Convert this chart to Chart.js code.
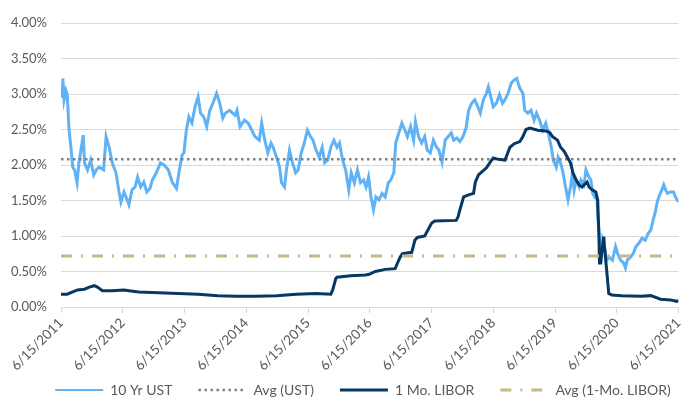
<!DOCTYPE html>
<html>
<head>
<meta charset="utf-8">
<script src="https://cdn.jsdelivr.net/npm/chart.js@4.4.1/dist/chart.umd.min.js"></script>
<style>
  html, body { margin: 0; padding: 0; background: #fff; }
</style>
</head>
<body>
<canvas id="myChart" width="692" height="410"></canvas>
<script>
// tick labels on the date axis (one per year, x = years since 6/15/2011)
const dateLabels = [
  "6/15/2011", "6/15/2012", "6/15/2013", "6/15/2014", "6/15/2015", "6/15/2016",
  "6/15/2017", "6/15/2018", "6/15/2019", "6/15/2020", "6/15/2021",
];

// 10 Yr UST
const ustYears = [
  0, 0.02, 0.03, 0.05, 0.08, 0.10, 0.13, 0.16, 0.19, 0.22, 0.26, 0.29, 0.33, 0.36, 0.38, 0.43,
  0.48, 0.53, 0.57, 0.62, 0.69, 0.73, 0.78, 0.83, 0.89, 0.94, 0.97, 1.02, 1.07, 1.10, 1.15, 1.20,
  1.24, 1.29, 1.34, 1.39, 1.44, 1.48, 1.55, 1.61, 1.67, 1.74, 1.80, 1.87, 1.91, 1.96, 1.99, 2.03,
  2.07, 2.12, 2.17, 2.22, 2.26, 2.31, 2.36, 2.41, 2.46, 2.52, 2.57, 2.62, 2.66, 2.73, 2.78, 2.82,
  2.85, 2.90, 2.97, 3.03, 3.09, 3.14, 3.21, 3.25, 3.30, 3.35, 3.40, 3.44, 3.49, 3.54, 3.57, 3.62,
  3.65, 3.70, 3.75, 3.80, 3.84, 3.89, 3.94, 3.99, 4.04, 4.08, 4.13, 4.18, 4.23, 4.27, 4.32, 4.37,
  4.42, 4.47, 4.51, 4.56, 4.61, 4.66, 4.70, 4.75, 4.80, 4.85, 4.90, 4.94, 4.98, 5.02, 5.06, 5.10,
  5.15, 5.20, 5.25, 5.30, 5.34, 5.39, 5.42, 5.47, 5.52, 5.57, 5.61, 5.66, 5.71, 5.74, 5.79, 5.84,
  5.89, 5.93, 5.98, 6.03, 6.08, 6.12, 6.17, 6.22, 6.27, 6.32, 6.36, 6.41, 6.46, 6.51, 6.56, 6.60,
  6.65, 6.70, 6.75, 6.79, 6.84, 6.89, 6.92, 6.97, 7.00, 7.05, 7.10, 7.15, 7.19, 7.24, 7.29, 7.34,
  7.38, 7.43, 7.48, 7.51, 7.56, 7.61, 7.66, 7.70, 7.75, 7.80, 7.85, 7.89, 7.94, 7.97, 8.02, 8.05,
  8.09, 8.13, 8.17, 8.21, 8.25, 8.28, 8.31, 8.34, 8.39, 8.42, 8.47, 8.50, 8.55, 8.58, 8.61, 8.64,
  8.68, 8.69, 8.72, 8.74, 8.77, 8.80, 8.84, 8.88, 8.93, 8.98, 9.01, 9.06, 9.11, 9.14, 9.17, 9.22,
  9.27, 9.31, 9.36, 9.41, 9.46, 9.51, 9.55, 9.59, 9.62, 9.65, 9.68, 9.73, 9.76, 9.79, 9.82, 9.87,
  9.92, 9.95, 10.00,
];
const ustRates = [
  2.95, 3.10, 3.22, 2.92, 3.05, 3.00, 2.50, 2.25, 1.97, 1.93, 1.75, 2.03, 2.25, 2.42, 2.03, 1.93,
  2.07, 1.86, 1.93, 1.97, 1.93, 2.40, 2.25, 2.03, 1.89, 1.62, 1.48, 1.62, 1.51, 1.44, 1.65, 1.69,
  1.83, 1.69, 1.76, 1.62, 1.67, 1.79, 1.90, 2.03, 2.00, 1.93, 1.76, 1.67, 1.89, 2.14, 2.17, 2.49,
  2.68, 2.59, 2.82, 2.96, 2.73, 2.68, 2.54, 2.77, 2.87, 3.01, 2.87, 2.66, 2.73, 2.77, 2.73, 2.70,
  2.77, 2.54, 2.63, 2.59, 2.49, 2.40, 2.35, 2.59, 2.35, 2.17, 2.31, 2.24, 2.11, 1.97, 1.75, 1.69,
  1.93, 2.21, 2.03, 1.89, 1.93, 2.17, 2.31, 2.49, 2.40, 2.35, 2.21, 2.11, 2.25, 2.03, 2.07, 2.25,
  2.35, 2.25, 2.31, 2.07, 1.93, 1.65, 1.89, 1.75, 1.93, 1.75, 1.79, 1.69, 1.83, 1.55, 1.37, 1.55,
  1.51, 1.60, 1.55, 1.75, 1.79, 1.89, 2.31, 2.45, 2.59, 2.49, 2.40, 2.54, 2.35, 2.61, 2.40, 2.31,
  2.40, 2.21, 2.17, 2.35, 2.25, 2.21, 2.04, 2.35, 2.40, 2.45, 2.35, 2.38, 2.33, 2.40, 2.52, 2.77,
  2.87, 2.92, 2.82, 2.73, 2.92, 3.01, 3.10, 2.92, 2.82, 2.87, 2.99, 2.87, 2.92, 3.01, 3.15, 3.20,
  3.22, 3.08, 3.01, 2.77, 2.73, 2.77, 2.63, 2.73, 2.63, 2.49, 2.59, 2.45, 2.25, 2.07, 1.97, 2.11,
  2.03, 1.89, 1.69, 1.51, 1.69, 1.89, 1.65, 1.79, 1.69, 1.79, 1.72, 1.93, 1.83, 1.79, 1.60, 1.55,
  1.51, 1.32, 0.94, 0.62, 0.94, 0.85, 0.66, 0.70, 0.66, 0.85, 0.76, 0.66, 0.62, 0.55, 0.66, 0.70,
  0.76, 0.85, 0.90, 0.97, 0.94, 1.04, 1.08, 1.23, 1.32, 1.46, 1.55, 1.65, 1.72, 1.65, 1.60, 1.62,
  1.62, 1.55, 1.48,
];

// 1 Mo. LIBOR
const liborYears = [
  0, 0.10, 0.18, 0.27, 0.38, 0.46, 0.54, 0.59, 0.67, 0.83, 1.02, 1.10, 1.26, 1.58, 1.90, 2.22,
  2.54, 2.85, 3.17, 3.49, 3.81, 4.13, 4.37, 4.40, 4.45, 4.47, 4.69, 4.93, 4.99, 5.09, 5.25, 5.41,
  5.45, 5.49, 5.53, 5.68, 5.73, 5.77, 5.89, 6.00, 6.05, 6.40, 6.43, 6.46, 6.52, 6.60, 6.68, 6.71,
  6.76, 6.81, 6.89, 6.95, 7.00, 7.08, 7.19, 7.27, 7.34, 7.43, 7.48, 7.53, 7.59, 7.72, 7.85, 7.91,
  7.96, 8.04, 8.09, 8.15, 8.20, 8.25, 8.29, 8.34, 8.39, 8.44, 8.47, 8.52, 8.55, 8.60, 8.66, 8.69,
  8.71, 8.72, 8.74, 8.76, 8.79, 8.80, 8.84, 8.87, 8.92, 9.08, 9.39, 9.55, 9.71, 9.87, 9.97, 10.00,
];
const liborRates = [
  0.18, 0.18, 0.21, 0.24, 0.25, 0.28, 0.30, 0.28, 0.23, 0.23, 0.24, 0.23, 0.21, 0.20, 0.19, 0.18,
  0.16, 0.15, 0.15, 0.16, 0.18, 0.19, 0.18, 0.24, 0.40, 0.42, 0.44, 0.45, 0.46, 0.50, 0.53, 0.54,
  0.62, 0.70, 0.75, 0.77, 0.94, 0.98, 1.00, 1.18, 1.21, 1.22, 1.27, 1.37, 1.55, 1.58, 1.60, 1.76,
  1.86, 1.90, 1.96, 2.04, 2.10, 2.08, 2.07, 2.25, 2.30, 2.33, 2.40, 2.50, 2.52, 2.49, 2.48, 2.46,
  2.40, 2.35, 2.25, 2.19, 2.11, 2.03, 1.89, 1.79, 1.72, 1.69, 1.72, 1.76, 1.69, 1.65, 1.62, 1.51,
  1.04, 0.62, 0.62, 0.80, 0.99, 0.85, 0.48, 0.19, 0.17, 0.16, 0.15, 0.16, 0.11, 0.10, 0.08, 0.09,
];

// long-run averages
const ustAverage = 2.08;
const liborAverage = 0.72;

const toPoints = (xs, ys) => xs.map((x, i) => ({ x: x, y: ys[i] }));
const flat = (v) => [{ x: 0, y: v }, { x: 10, y: v }];

Chart.defaults.font.family = "Lato, 'Open Sans', sans-serif";
Chart.defaults.font.size = 13;
Chart.defaults.color = "#595959";

const legendTweaks = {
  id: "legendTweaks",
  beforeInit(chart) {
    // fixed legend height so the plot bottom lands at the 0% line of the reference
    const originalFit = chart.legend.fit;
    chart.legend.fit = function fit() {
      originalFit.bind(chart.legend)();
      this.height = 37;
    };
  },
  afterLayout(chart) {
    // move the legend row up and a bit right, where the reference has it
    // (the legend clips to its own box, so the box is stretched to the bottom)
    const legend = chart.legend;
    legend.top = 357;
    legend.bottom = chart.height;
    legend.left += 19;
    legend.right += 19;
  },
};

const ctx = document.getElementById("myChart");
new Chart(ctx, {
  type: "line",
  data: {
    datasets: [
      {
        label: "10 Yr UST",
        data: toPoints(ustYears, ustRates),
        borderColor: "#5fb2f5",
        backgroundColor: "#5fb2f5",
        borderWidth: 3,
        order: 4,
      },
      {
        label: "Avg (UST)",
        data: flat(ustAverage),
        borderColor: "#808080",
        backgroundColor: "#808080",
        borderWidth: 2.5,
        borderDash: [2.5, 3.5],
        order: 3,
      },
      {
        label: "1 Mo. LIBOR",
        data: toPoints(liborYears, liborRates),
        borderColor: "#073763",
        backgroundColor: "#073763",
        borderWidth: 3,
        order: 2,
      },
      {
        label: "Avg (1-Mo. LIBOR)",
        data: flat(liborAverage),
        borderColor: "#c8b98b",
        backgroundColor: "#c8b98b",
        borderWidth: 3,
        borderDash: [11, 9, 2, 9],
        order: 1,
      },
    ],
  },
  options: {
    responsive: false,
    animation: false,
    layout: { padding: { top: 23, right: 4, left: 0, bottom: 0 } },
    elements: {
      point: { radius: 0 },
      line: { tension: 0, borderCapStyle: "butt" },
    },
    plugins: {
      tooltip: { enabled: false },
      legend: {
        position: "bottom",
        labels: {
          usePointStyle: true,
          pointStyle: "line",
          pointStyleWidth: 48,
          padding: 26,
          color: "#595959",
          font: { size: 14 },
          sort: (a, b) => a.datasetIndex - b.datasetIndex,
          generateLabels(chart) {
            const items = Chart.defaults.plugins.legend.labels.generateLabels(chart);
            items.forEach((item) => {
              const ds = chart.data.datasets[item.datasetIndex];
              item.strokeStyle = ds.borderColor;
              item.lineWidth = item.datasetIndex === 0 ? 2 : ds.borderWidth;
              item.lineDash = ds.borderDash || [];
            });
            return items;
          },
        },
      },
    },
    scales: {
      x: {
        type: "linear",
        min: 0,
        max: 10,
        afterBuildTicks: (scale) => {
          scale.ticks = dateLabels.map((_, i) => ({ value: i }));
        },
        afterFit: (scale) => {
          scale.height = 66;
        },
        ticks: {
          minRotation: 45,
          maxRotation: 45,
          padding: 2,
          autoSkip: false,
          font: { size: 13.5 },
          callback: (value) => dateLabels[value],
        },
        grid: {
          drawOnChartArea: false,
          drawTicks: true,
          tickLength: 6,
          tickColor: "#d9d9d9",
        },
        border: { display: true, color: "#d9d9d9" },
      },
      y: {
        min: 0,
        max: 4,
        afterFit: (scale) => {
          scale.width = 61;
        },
        ticks: {
          stepSize: 0.5,
          padding: 14,
          callback: (value) => value.toFixed(2) + "%",
        },
        grid: { color: "#d9d9d9", drawTicks: false },
        border: { display: false },
      },
    },
  },
  plugins: [legendTweaks],
});
</script>
</body>
</html>
